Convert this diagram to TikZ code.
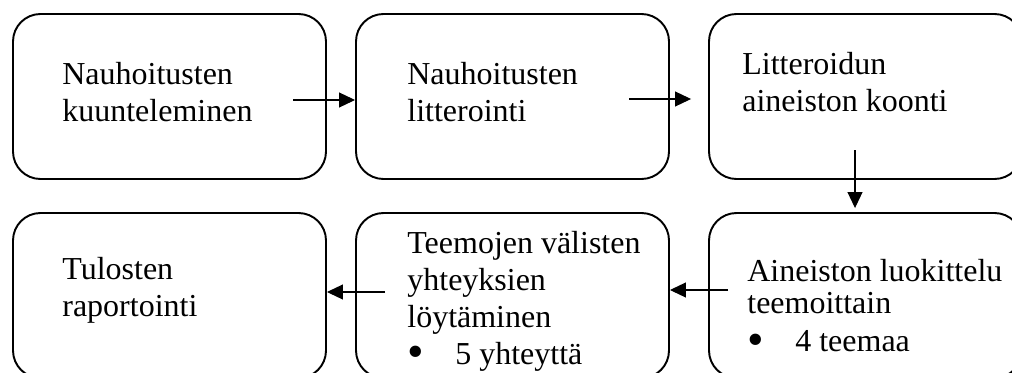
\documentclass[tikz,border=0pt]{standalone}
\usepackage{fontspec}
\setmainfont{Liberation Serif}
\usetikzlibrary{arrows.meta,calc}
\tikzset{
  box/.style={draw,line width=1.1pt,rounded corners=0.55cm,minimum width=6.26cm,minimum height=3.3cm},
  txt/.style={anchor=north west,inner sep=0pt,align=left},
  arr/.style={line width=0.6pt,-{Triangle[length=0.32cm,width=0.3cm]}}
}
\newcommand{\bul}[1]{\makebox[0.96cm][l]{\smash{\raisebox{-0.1em}{\fontsize{27pt}{21pt}\selectfont\textbullet}}}#1}
\begin{document}
\begin{tikzpicture}[font=\fontsize{18.2pt}{21pt}\selectfont]
\useasboundingbox (0,0) rectangle (20.24,7.44);
\node[box] (b1) at (3.39,5.51) {};
\node[box] (b2) at (10.25,5.51) {};
\node[box] (b3) at (17.31,5.51) {};
\node[box] (b4) at (3.39,1.53) {};
\node[box] (b5) at (10.25,1.53) {};
\node[box] (b6) at (17.31,1.53) {};

\node[txt] (t1) at ($(b1.north west)+(1.0,-0.98)$) {Nauhoitusten\\kuunteleminen};
\node[txt] (t2) at ($(b2.north west)+(1.04,-0.98)$) {Nauhoitusten\\litterointi};
\node[txt] (t3) at ($(b3.north west)+(0.68,-0.78)$) {Litteroidun\\aineiston koonti};
\node[txt] (t4) at ($(b4.north west)+(1.0,-0.90)$) {Tulosten\\raportointi};
\node[txt] (t5) at ($(b5.north west)+(1.04,-0.38)$) {Teemojen välisten\\yhteyksien\\löytäminen\\\bul{5 yhteyttä}};
\node[txt] (t6) at ($(b6.north west)+(0.78,-0.94)$) {Aineiston luokittelu\\[-3pt]teemoittain\\[1pt]\bul{4 teemaa}};

\coordinate (s1) at (5.86,5.44);
\coordinate (s2) at (12.58,5.46);
\coordinate (s3) at (17.10,4.44);
\coordinate (s4) at (14.56,1.64);
\coordinate (s5) at (7.70,1.60);
\draw[arr] (s1) -- (s1 -| b2.west);
\draw[arr,shorten >=0.34cm] (s2) -- (s2 -| b3.west);
\draw[arr,shorten >=0.08cm] (s3) -- (s3 |- b6.north);
\draw[arr] (s4) -- (s4 -| b5.east);
\draw[arr] (s5) -- (s5 -| b4.east);
\end{tikzpicture}
\end{document}
